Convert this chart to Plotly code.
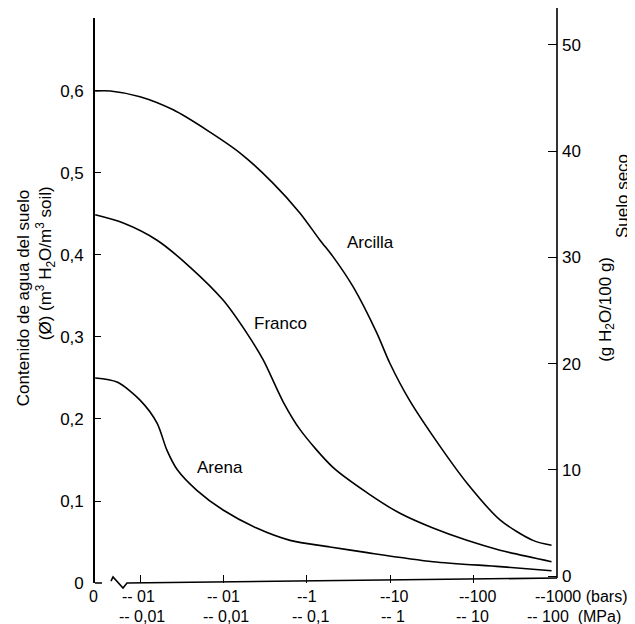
import plotly.graph_objects as go

# ---- data (suction in bars, volumetric water content) ----
suction_bars_arcilla = [0.0029, 0.0044, 0.010, 0.025, 0.064, 0.16, 0.39, 0.83, 1.44, 2.06,
                        3.6, 6.9, 9.9, 17, 40, 83, 207, 515, 860]
theta_arcilla = [0.600, 0.600, 0.593, 0.577, 0.552, 0.524, 0.488, 0.451, 0.418, 0.398,
                 0.361, 0.305, 0.268, 0.223, 0.166, 0.122, 0.077, 0.052, 0.046]

suction_bars_franco = [0.0029, 0.0063, 0.016, 0.040, 0.099, 0.19, 0.30, 0.52, 0.83, 2.06,
                       5.3, 13.1, 32.6, 83, 207, 860]
theta_franco = [0.449, 0.439, 0.418, 0.385, 0.345, 0.305, 0.272, 0.221, 0.187, 0.141,
                0.110, 0.085, 0.067, 0.052, 0.040, 0.026]

suction_bars_arena = [0.0029, 0.0053, 0.010, 0.016, 0.021, 0.028, 0.048, 0.099, 0.25, 0.63,
                      1.9, 5.3, 32.6, 207, 860]
theta_arena = [0.250, 0.245, 0.223, 0.195, 0.162, 0.138, 0.113, 0.089, 0.067, 0.052,
               0.044, 0.037, 0.026, 0.020, 0.015]

series_names = ["Arcilla", "Franco", "Arena"]
label_log_x = [0.76, -0.31, -1.04]
label_y = [0.415, 0.317, 0.141]

left_tickvals = [0, 0.1, 0.2, 0.3, 0.4, 0.5, 0.6]
left_ticktext = ["0", "0,1", "0,2", "0,3", "0,4", "0,5", "0,6"]
right_tickvals = [0, 10, 20, 30, 40, 50]

x_tick_bars = [0.01, 0.1, 1, 10, 100]
bars_labels = ["-- 01", "-- 01", "--1", "--10", "--100", "--1000 (bars)"]
mpa_labels = ["-- 0,01", "-- 0,01", "-- 0,1", "-- 1", "-- 10", "-- 100  (MPa)"]
label_log_pos = [-2, -1, 0, 1, 2, 3]

FONT = "Liberation Sans, Arial, Helvetica, sans-serif"
FS = 17

fig = go.Figure()
for xs, ys in [(suction_bars_arcilla, theta_arcilla),
               (suction_bars_franco, theta_franco),
               (suction_bars_arena, theta_arena)]:
    fig.add_trace(go.Scatter(x=xs, y=ys, mode="lines",
                             line=dict(color="black", width=1.6, shape="spline", smoothing=0.8),
                             showlegend=False, hoverinfo="skip"))
# empty trace for the right axis
fig.add_trace(go.Scatter(x=[], y=[], yaxis="y2", showlegend=False))

annotations = []
for name, lx, ly in zip(series_names, label_log_x, label_y):
    annotations.append(dict(x=lx, y=ly, xref="x", yref="y", text=name, showarrow=False,
                            xanchor="center", yanchor="middle",
                            font=dict(size=FS, color="black", family=FONT)))

bars_shift = [-2, 0, 0, 4, 4, -24]
mpa_shift = [2, 3, 4, 3, -1, -32]
for i, (lp, bt, mt) in enumerate(zip(label_log_pos, bars_labels, mpa_labels)):
    last = i == len(label_log_pos) - 1
    annotations.append(dict(x=lp, y=0, xref="x", yref="paper", text=bt, showarrow=False,
                            xanchor="left" if last else "center", yanchor="middle",
                            xshift=bars_shift[i], yshift=-13,
                            font=dict(size=FS - 1, color="black", family=FONT)))
    annotations.append(dict(x=lp, y=0, xref="x", yref="paper", text=mt, showarrow=False,
                            xanchor="left" if last else "center", yanchor="middle",
                            xshift=mpa_shift[i], yshift=-33,
                            font=dict(size=FS - 1, color="black", family=FONT)))
# "0" at the origin of the x axis
annotations.append(dict(x=0, y=0, xref="paper", yref="paper", text="0", showarrow=False,
                        xanchor="center", yanchor="middle", xshift=-2, yshift=-13,
                        font=dict(size=FS - 1, color="black", family=FONT)))

# axis titles
title_font = dict(size=FS, color="black", family=FONT)
annotations += [
    dict(x=-0.1558, y=0.504, xref="paper", yref="paper", text="Contenido de agua del suelo",
         textangle=-90, showarrow=False, xanchor="center", yanchor="middle", font=title_font),
    dict(x=-0.1082, y=0.566, xref="paper", yref="paper",
         text="(Ø) (m<sup>3</sup> H<sub>2</sub>O/m<sup>3</sup> soil)",
         textangle=-90, showarrow=False, xanchor="center", yanchor="middle", font=title_font),
    dict(x=1.143, y=0.685, xref="paper", yref="paper", text="Suelo seco",
         textangle=-90, showarrow=False, xanchor="center", yanchor="middle", font=title_font),
    dict(x=1.108, y=0.485, xref="paper", yref="paper", text="(g H<sub>2</sub>O/100 g)",
         textangle=-90, showarrow=False, xanchor="center", yanchor="middle", font=title_font),
]

shapes = [
    # x axis with break mark
    dict(type="path", xref="paper", yref="paper",
         path="M 0,0 L 0.0152,0 M 0.0346,0.0035 L 0.039,0.0106 L 0.0606,-0.0088 "
              "L 0.0693,0 L 1,0.0088",
         line=dict(color="black", width=1.6)),
    # right axis line (taller than left)
    dict(type="line", xref="paper", yref="paper", x0=1, x1=1, y0=0.0088, y1=1.0195,
         line=dict(color="black", width=1.6)),
]

# the page body adds an 8px offset; figure sized so it fits the window without scrollbars
fig.update_layout(
    width=627, height=616,
    margin=dict(l=87, r=78, t=10, b=41),
    paper_bgcolor="white", plot_bgcolor="white",
    font=dict(family=FONT, size=FS, color="black"),
    xaxis=dict(type="log", range=[-2.54, 3.0], showgrid=False, zeroline=False, showline=False,
               tickvals=x_tick_bars, showticklabels=False,
               ticks="inside", ticklen=8, tickwidth=1.4, tickcolor="black"),
    yaxis=dict(range=[0, 0.689], showgrid=False, zeroline=False,
               showline=True, linecolor="black", linewidth=1.6,
               tickvals=left_tickvals, ticktext=left_ticktext,
               ticks="inside", ticklen=6, tickwidth=1.4, tickcolor="black",
               ticklabelstandoff=6, tickfont=dict(size=FS, family=FONT)),
    yaxis2=dict(range=[-0.659, 52.54], overlaying="y", side="right", showgrid=False,
                zeroline=False, showline=False, tickvals=right_tickvals,
                ticks="inside", ticklen=9, tickwidth=1.4, tickcolor="black",
                ticklabelstandoff=4, tickfont=dict(size=FS, family=FONT)),
    annotations=annotations,
    shapes=shapes,
)

fig.write_html("out.html")
